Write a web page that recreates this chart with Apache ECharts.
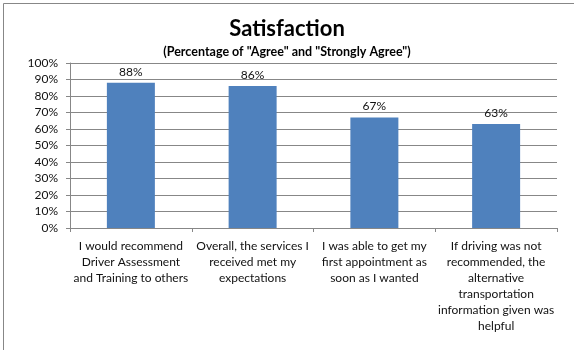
<!DOCTYPE html>
<html><head><meta charset="utf-8">
<script src="https://cdn.jsdelivr.net/npm/echarts@6/dist/echarts.min.js"></script>
<style>html,body{margin:0;padding:0;background:#fff}#c{width:574px;height:350px}</style>
</head><body><div id="c"></div>
<script>
const categories = [
  "I would recommend\nDriver Assessment\nand Training to others",
  "Overall, the services I\nreceived met my\nexpectations",
  "I was able to get my\nfirst appointment as\nsoon as I wanted",
  "If driving was not\nrecommended, the\nalternative\ntransportation\ninformation given was\nhelpful"
];
const values = [88, 86, 67, 63];
const yTicks = {min: 0, max: 100, interval: 10};

const FONT = "Lato, 'Open Sans', sans-serif";
const chart = echarts.init(document.getElementById('c'), null, {renderer: 'canvas'});
chart.setOption({
  animation: false,
  backgroundColor: '#fff',
  title: {
    text: 'Satisfaction',
    subtext: '(Percentage of "Agree" and "Strongly Agree")',
    left: 'center', top: 13, itemGap: 5,
    textStyle: {fontFamily: FONT, fontSize: 22, fontWeight: 'bold', color: '#000'},
    subtextStyle: {fontFamily: FONT, fontSize: 12.5, fontWeight: 'bold', color: '#000'}
  },
  graphic: [{
    type: 'rect', left: 1, top: 1, silent: true, z: -1,
    shape: {width: 571, height: 347},
    style: {fill: 'none', stroke: '#878787', lineWidth: 1}
  }],
  grid: {left: 70, right: 17, top: 63, bottom: 122, containLabel: false},
  xAxis: {
    type: 'category', data: categories,
    axisLine: {lineStyle: {color: '#878787'}},
    axisTick: {show: true, length: 4, lineStyle: {color: '#878787'}},
    axisLabel: {interval: 0, fontFamily: FONT, fontSize: 12, color: '#111', lineHeight: 16, margin: 10}
  },
  yAxis: {
    type: 'value', min: yTicks.min, max: yTicks.max, interval: yTicks.interval,
    axisLine: {show: true, lineStyle: {color: '#878787'}},
    axisTick: {show: true, length: 4, lineStyle: {color: '#878787'}},
    splitLine: {lineStyle: {color: '#878787'}},
    axisLabel: {formatter: '{value}%', fontFamily: FONT, fontSize: 12, color: '#111', margin: 12}
  },
  series: [{
    type: 'bar', data: values, barWidth: 48,
    itemStyle: {color: '#4F81BD'},
    label: {show: true, position: 'top', formatter: '{c}%', fontFamily: FONT, fontSize: 12, color: '#111', distance: 5}
  }]
});
</script></body></html>
